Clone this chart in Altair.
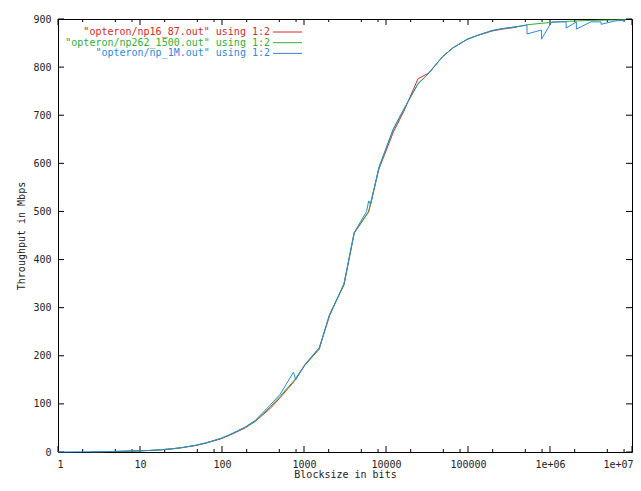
import altair as alt
import pandas as pd

# ---------------- data ----------------
series_names = [
    '"opteron/np16_87.out" using 1:2',
    '"opteron/np262_1500.out" using 1:2',
    '"opteron/np_1M.out" using 1:2',
]
series_colors = ["#d42a2a", "#33ad33", "#2e88dc"]

red_bits = [3, 5, 8, 13, 16, 24, 32, 48, 64, 96, 128, 192, 256, 384, 512, 768,
            1024, 1536, 2048, 3072, 4096, 6144, 8192, 12288, 16384, 24576,
            32768, 49152, 65536, 98304, 131072, 196608, 262144, 393216]
red_mbps = [0.6, 1.1, 1.9, 3.1, 3.9, 6.3, 8.8, 13.5, 18.5, 27, 36, 50, 64, 90, 113, 148,
            180, 214, 286, 347, 455, 499, 588, 665, 707, 776,
            787, 822, 840, 858, 866, 875, 879, 883]

green_bits = [2.5, 4, 8, 13, 16, 24, 32, 48, 64, 96, 128, 192, 256, 384, 512, 768,
              1024, 1536, 2048, 3072, 4096, 6144, 8192, 12288, 16384, 24576,
              32768, 49152, 65536, 98304, 131072, 196608, 262144, 393216,
              524288, 786432, 1048576, 1572864, 2097152, 3145728, 4194304,
              6291456, 8388608]
green_mbps = [0.5, 0.9, 2.0, 3.2, 4.0, 6.4, 9.0, 14, 19, 28, 37, 51, 65, 93, 116, 150,
              181, 216, 283, 349, 456, 500, 590, 670, 711, 766,
              786, 822, 840, 858, 866, 876, 880, 884,
              888, 891, 893, 895, 896, 897, 897.5,
              898, 898.5]

blue_bits = [1, 2, 3, 5, 8, 13, 16, 24, 32, 48, 64, 96, 128, 192, 256, 384, 512,
             744, 792, 1024, 1536, 2048, 3072, 4096, 5800, 6144, 6500, 8192,
             12288, 16384, 24576, 32768, 49152, 65536, 98304, 131072, 196608,
             262144, 393216, 524264, 524312, 786408, 786456, 1048552,
             1572840, 1572888, 2097128, 2097176, 3145704, 4194280, 4194328,
             6291432, 8388584]
blue_mbps = [0, 0.4, 0.7, 1.2, 2.0, 3.2, 4.0, 6.5, 9.0, 14, 19, 28, 37, 52, 66, 97, 120,
             166, 150, 182, 217, 284, 350, 456, 500, 522, 514, 592,
             672, 712, 765, 786, 822, 840, 858, 866, 876,
             880, 884, 887, 869, 877, 858, 894,
             894, 881, 894, 879, 894, 894, 889,
             896, 898]

x_major = [1, 10, 100, 1000, 10000, 100000, 1000000, 10000000]
x_labels = ["1", "10", "100", "1000", "10000", "100000", "1e+06", "1e+07"]
x_minor = [m * 10 ** k for k in range(7) for m in (2, 5, 8)]
y_major = [0, 100, 200, 300, 400, 500, 600, 700, 800, 900]

x_title = "Blocksize in bits"
y_title = "Throughput in Mbps"

# ---------------- layout / style ----------------
W, H = 574, 433
FONT = "DejaVu Sans Mono"
FS = 10
TXT = "#222222"

xscale = alt.Scale(type="log", domain=[1, 1e7], nice=False)
yscale = alt.Scale(domain=[0, 900], nice=False, zero=False)

label_expr = "[" + ",".join("'" + s + "'" for s in x_labels) + "][round(log(datum.value)/LN10)]"

x_axis = alt.Axis(
    values=x_major, labelExpr=label_expr, ticks=False, domain=False, grid=False,
    labelFont=FONT, labelFontSize=FS, labelColor=TXT, labelPadding=7,
    title=x_title, titleFont=FONT, titleFontSize=FS, titleFontWeight="normal",
    titleColor=TXT, titlePadding=0, labelFlush=True, labelFlushOffset=1)
y_axis = alt.Axis(
    values=y_major, ticks=False, domain=False, grid=False,
    labelFont=FONT, labelFontSize=FS, labelColor=TXT, labelPadding=7,
    labelBaseline="middle", labelFlush=False,
    title=y_title, titleFont=FONT, titleFontSize=FS, titleFontWeight="normal",
    titleColor=TXT, titlePadding=6)

# main lines
line_layers = []
for i, (bits, mbps) in enumerate([(red_bits, red_mbps), (green_bits, green_mbps), (blue_bits, blue_mbps)]):
    df = pd.DataFrame({"bits": bits, "mbps": mbps})
    line_layers.append(
        alt.Chart(df).mark_line(color=series_colors[i], strokeWidth=1).encode(
            x=alt.X("bits:Q", scale=xscale, axis=x_axis),
            y=alt.Y("mbps:Q", scale=yscale, axis=y_axis),
        )
    )

# inward ticks (gnuplot style)
xmaj = pd.DataFrame({"bits": x_major})
xmin = pd.DataFrame({"bits": x_minor})
ymaj = pd.DataFrame({"mbps": y_major})
tk = dict(color="black", strokeWidth=1)
xa = alt.X("bits:Q", scale=xscale, axis=x_axis)
ya = alt.Y("mbps:Q", scale=yscale, axis=y_axis)
ticks = [
    alt.Chart(xmaj).mark_rule(**tk).encode(x=xa, y=alt.value(H), y2=alt.value(H - 6)),
    alt.Chart(xmaj).mark_rule(**tk).encode(x=xa, y=alt.value(0), y2=alt.value(6)),
    alt.Chart(xmin).mark_rule(**tk).encode(x=xa, y=alt.value(H), y2=alt.value(H - 3)),
    alt.Chart(xmin).mark_rule(**tk).encode(x=xa, y=alt.value(0), y2=alt.value(3)),
    alt.Chart(ymaj).mark_rule(**tk).encode(y=ya, x=alt.value(0), x2=alt.value(6)),
    alt.Chart(ymaj).mark_rule(**tk).encode(y=ya, x=alt.value(W), x2=alt.value(W - 6)),
]

# key (gnuplot style: right-aligned text, sample line on the right)
key_rows = [13, 23.7, 34.4]
key_layers = []
for name, col, yy in zip(series_names, series_colors, key_rows):
    kdf = pd.DataFrame({"label": [name]})
    key_layers.append(alt.Chart(kdf).mark_text(
        align="right", baseline="middle", font=FONT, fontSize=FS, color=col
    ).encode(text="label:N", x=alt.value(212), y=alt.value(yy)))
    key_layers.append(alt.Chart(kdf).mark_rule(color=col, strokeWidth=1).encode(
        x=alt.value(215), x2=alt.value(244), y=alt.value(yy)))

chart = alt.layer(*ticks, *line_layers, *key_layers).properties(
    width=W, height=H,
    padding={"left": 50, "top": 11, "right": 1, "bottom": 31},
    autosize=alt.AutoSizeParams(type="none"),
    background="white",
).configure_view(stroke="black", strokeWidth=1)

chart.save("out.html", embed_options={"renderer": "svg", "actions": False})
